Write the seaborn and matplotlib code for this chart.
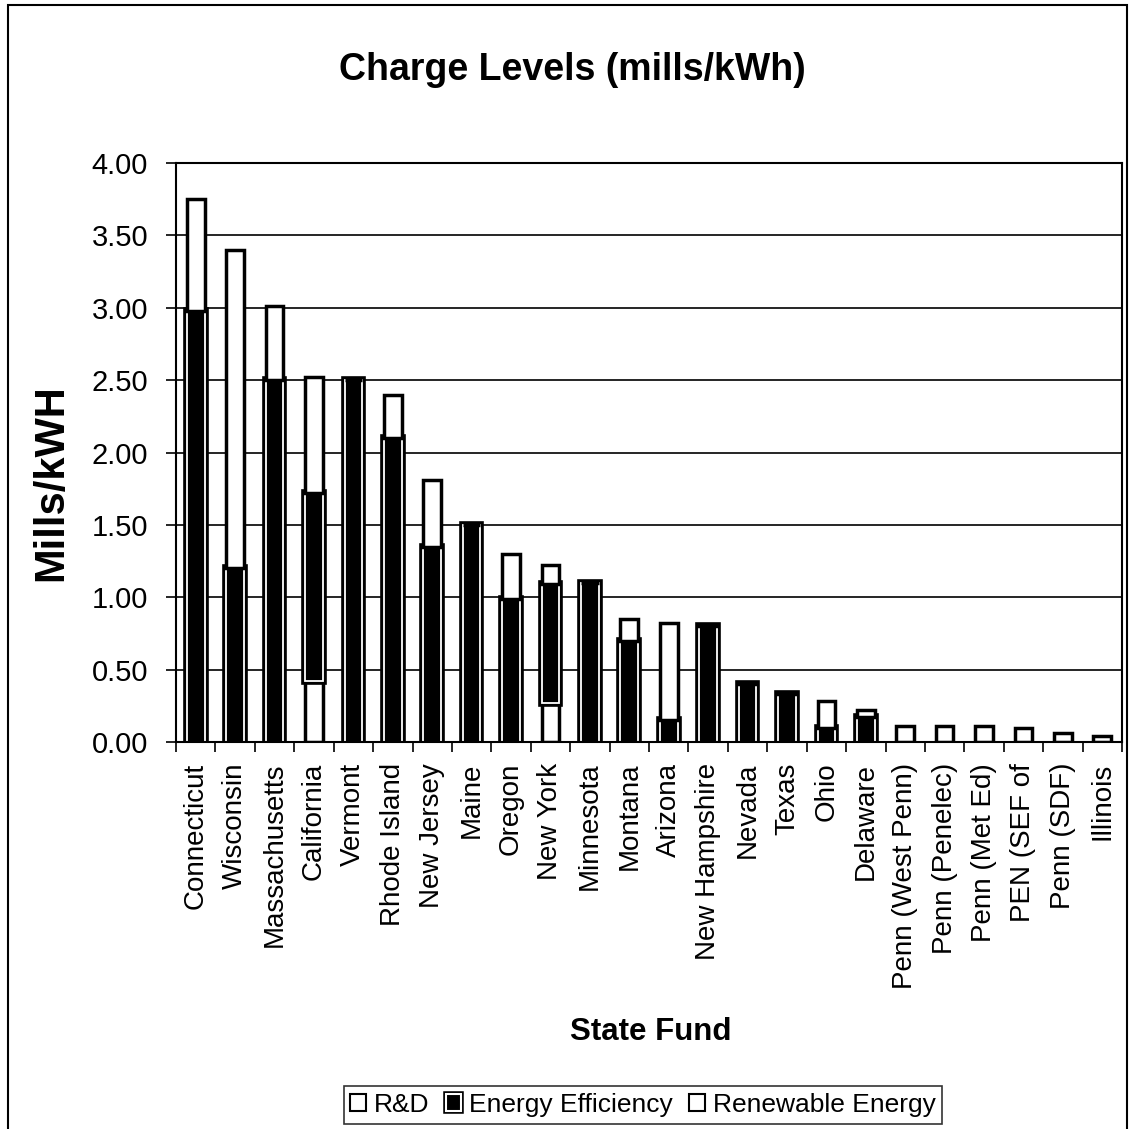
import numpy as np
import matplotlib
matplotlib.use("Agg")
import matplotlib.pyplot as plt
import matplotlib.patheffects as pe
from matplotlib.patches import Patch, Rectangle
import seaborn as sns

# -----------------------------
# Data (mills/kWh)
# -----------------------------
states = ["Connecticut", "Wisconsin", "Massachusetts", "California", "Vermont",
          "Rhode Island", "New Jersey", "Maine", "Oregon", "New York",
          "Minnesota", "Montana", "Arizona", "New Hampshire", "Nevada",
          "Texas", "Ohio", "Delaware", "Penn (West Penn)", "Penn (Penelec)",
          "Penn (Met Ed)", "PEN (SEF of", "Penn (SDF)", "Illinois"]
rnd = [0.00, 0.00, 0.00, 0.42, 0.00, 0.00, 0.00, 0.00, 0.00, 0.27,
       0.00, 0.00, 0.00, 0.00, 0.00, 0.00, 0.00, 0.00, 0.00, 0.00,
       0.00, 0.00, 0.00, 0.00]
efficiency = [2.98, 1.20, 2.50, 1.30, 2.50, 2.10, 1.35, 1.50, 0.99, 0.82,
              1.10, 0.70, 0.15, 0.80, 0.40, 0.33, 0.10, 0.17, 0.00, 0.00,
              0.00, 0.00, 0.00, 0.00]
renewable = [0.77, 2.20, 0.51, 0.80, 0.00, 0.30, 0.46, 0.00, 0.31, 0.13,
             0.00, 0.15, 0.67, 0.01, 0.01, 0.01, 0.18, 0.05, 0.11, 0.11,
             0.11, 0.10, 0.06, 0.04]
yticks = [0.0, 0.5, 1.0, 1.5, 2.0, 2.5, 3.0, 3.5, 4.0]

sns.set_theme(style="white")
plt.rcParams["font.family"] = ["Liberation Sans", "DejaVu Sans"]
plt.rcParams["text.color"] = "black"
plt.rcParams["axes.labelcolor"] = "black"
plt.rcParams["xtick.color"] = "black"
plt.rcParams["ytick.color"] = "black"

W, H = 1131, 1129
fig = plt.figure(figsize=(W / 100, H / 100), dpi=100)
ax = fig.add_axes([176 / W, 1 - 742 / H, (1122 - 176) / W, (742 - 163) / H])

rnd_a = np.array(rnd)
eff_a = np.array(efficiency)

bar_kw = dict(errorbar=None, width=0.45, ax=ax)

# R&D (bottom, white)
sns.barplot(x=states, y=rnd, color="white", edgecolor="black", linewidth=2.5,
            saturation=1, **bar_kw)
# Energy efficiency (middle, black with thin white inner line)
sns.barplot(x=states, y=efficiency, bottom=rnd_a, color="black",
            edgecolor="white", linewidth=1.3, saturation=1, **bar_kw)
for bar in ax.containers[-1]:
    bar.set_path_effects([pe.Stroke(linewidth=5.5, foreground="black"), pe.Normal()])
# Renewable energy (top, white)
sns.barplot(x=states, y=renewable, bottom=rnd_a + eff_a, color="white",
            edgecolor="black", linewidth=2.5, saturation=1, **bar_kw)

# Axes styling
ax.set_ylim(0, 4.0)
ax.set_xlim(-0.5, len(states) - 0.5)
ax.set_yticks(yticks)
ax.set_yticklabels([f"{v:.2f}" for v in yticks])
ax.yaxis.grid(True, color="black", linewidth=1.2)
ax.set_axisbelow(True)
for s in ax.spines.values():
    s.set_visible(True)
    s.set_color("black")
    s.set_linewidth(1.5)

ax.set_xticks(np.arange(len(states)))
ax.set_xticklabels(states, rotation=90)
ax.set_xticks(np.arange(len(states) + 1) - 0.5, minor=True)
ax.tick_params(axis="x", which="major", length=0, pad=15, labelsize=20,
               colors="black")
ax.tick_params(axis="x", which="minor", length=7, width=1.2, color="black",
               bottom=True)
ax.tick_params(axis="y", length=7, width=1.2, color="black", left=True,
               pad=13, labelsize=21, labelcolor="black")
ax.set_xlabel("")
ax.set_ylabel("")

# Titles and labels
fig.text(572 / W, 1 - 70 / H, "Charge Levels (mills/kWh)", ha="center",
         va="center", fontsize=27, fontweight="bold")
fig.text(51 / W, 1 - 483 / H, "Mills/kWH", ha="center", va="center",
         rotation=90, fontsize=30, fontweight="bold")
fig.text(651 / W, 1 - 1032 / H, "State Fund", ha="center", va="center",
         fontsize=22.5, fontweight="bold")

# Legend
handles = [
    Patch(facecolor="white", edgecolor="black", linewidth=1.5, label="R&D"),
    Patch(facecolor="black", edgecolor="white", linewidth=1.5,
          path_effects=[pe.Stroke(linewidth=4, foreground="black"), pe.Normal()],
          label="Energy Efficiency"),
    Patch(facecolor="white", edgecolor="black", linewidth=1.5,
          label="Renewable Energy"),
]
leg = fig.legend(handles=handles, loc="center", bbox_to_anchor=(643 / W, 1 - 1105 / H),
                 ncol=3, fontsize=19, frameon=True, fancybox=False,
                 handlelength=0.6, handleheight=0.6, handletextpad=0.3,
                 columnspacing=0.6, borderpad=0.25, borderaxespad=0)
leg.get_frame().set_edgecolor("black")
leg.get_frame().set_linewidth(1.2)

# Outer border of the chart area
fig.add_artist(Rectangle((8 / W, -0.01), (1127 - 8) / W, 1 - 5 / H + 0.01,
                         transform=fig.transFigure, fill=False,
                         edgecolor="black", linewidth=1.5))

fig.savefig("out.png", dpi=100)
plt.close(fig)
